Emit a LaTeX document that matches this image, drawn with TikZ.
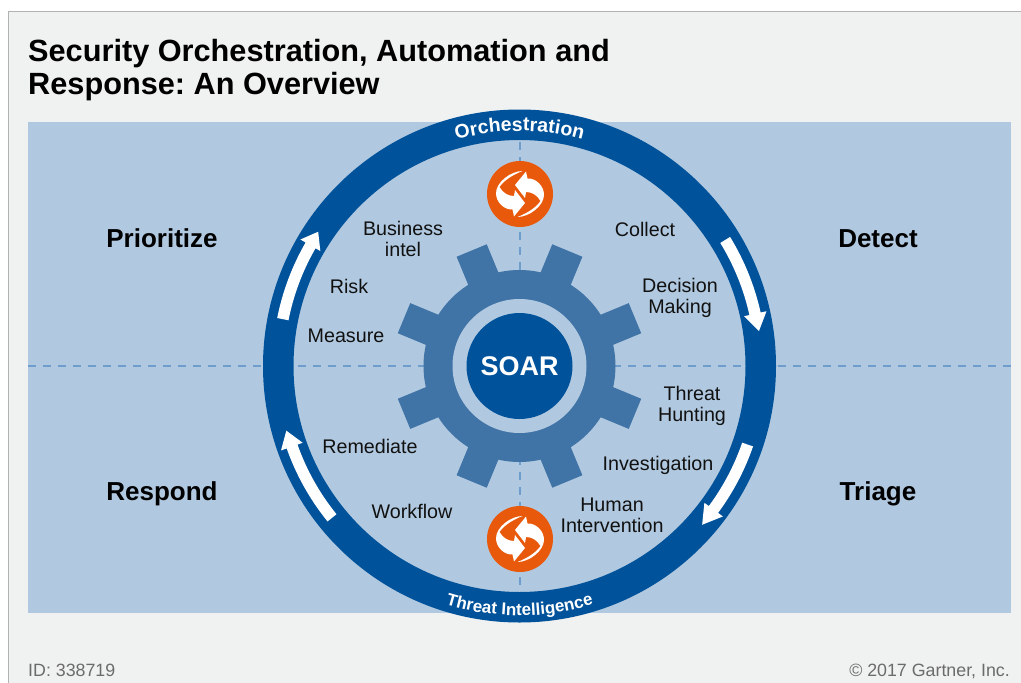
\documentclass[tikz,border=0pt]{standalone}
\usepackage{fontspec}
\setmainfont{Liberation Sans}
\usetikzlibrary{decorations.text}
\definecolor{pagebg}{HTML}{F0F2F2}
\definecolor{bandblue}{HTML}{B1C9E0}
\definecolor{ringblue}{HTML}{00529B}
\definecolor{gearblue}{HTML}{4073A6}
\definecolor{dashblue}{HTML}{6F9DCC}
\definecolor{iconorange}{HTML}{E8590C}
\definecolor{txt}{HTML}{111111}
\frenchspacing
\tikzset{
  lab/.style={font=\fontsize{19.7}{21}\selectfont,text=txt,align=center,inner sep=0pt},
  phase/.style={font=\fontsize{26}{28}\selectfont\bfseries,text=black,inner sep=0pt,anchor=base},
  foot/.style={font=\fontsize{17.8}{20}\selectfont,text=black!58,inner sep=0pt},
  dashline/.style={draw=dashblue,line width=2pt,dash pattern=on 8pt off 7pt},
  swirlarm/.pic={
    \fill[white] (2.5,23) .. controls (-9,23) and (-24,12) .. (-24,0.7)
      .. controls (-24,-8) and (-16,-16) .. (-7.5,-15.5) -- (-6,-22.5) -- (5,-9) -- (-5,4) -- (-6,-2)
      .. controls (-12,-2) and (-17,1) .. (-20.5,7) .. controls (-15,15) and (-5,20) .. (2.5,23) -- cycle;
  },
  swirl/.pic={
    \pic {swirlarm};
    \pic[rotate=180] {swirlarm};
  }
}
\newcommand{\ringarrow}[3]{%
  \fill[white] (#1:235.5) arc[start angle=#1,end angle=#2,radius=235.5] -- (#2:230) -- (#3:242) -- (#2:253) -- (#2:247)
     arc[start angle=#2,end angle=#1,radius=247] -- cycle;}
\begin{document}
\begin{tikzpicture}[x=1pt,y=1pt]
\useasboundingbox (0,-683) rectangle (1021,0);
\fill[white] (0,-683) rectangle (1021,0);
\fill[pagebg] (8,-683) rectangle (1021,-11);
\draw[black!30,line width=1pt] (8,-683) -- (8,-11) -- (1021,-11);
\fill[bandblue] (28,-612.5) rectangle (1011,-122);
\node[anchor=base west,inner sep=0pt,font=\fontsize{30.7}{33}\selectfont\bfseries,text=black,align=left] (title) at (28,-94)
  {Security Orchestration, Automation and\\Response: An Overview};
\node[foot,anchor=base west] (idtext) at (28,-676) {ID: 338719};
\node[foot,anchor=base east] (copy) at (1010,-676) {© 2017 Gartner, Inc.};
\begin{scope}[shift={(519.5,-366)}]
  \draw[dashline] (-491.5,0) -- (491.5,0);
  \draw[dashline] (0,224) -- (0,-224);
  % gear
  \fill[gearblue] (0,0) circle[radius=96];
  \foreach \a in {22.5,67.5,...,337.5}
    \fill[gearblue,rotate=\a] (85,-16.3) rectangle (125,16.3);
  \fill[bandblue] (0,0) circle[radius=67];
  \fill[ringblue] (0,0) circle[radius=53];
  \node[font=\fontsize{27}{30}\selectfont\bfseries,text=white,inner sep=0pt] (soar) at (0,0) {SOAR};
  % ring
  \fill[ringblue,even odd rule] (0,0) circle[radius=256.5] (0,0) circle[radius=226];
  \ringarrow{31.5}{12.5}{8.3}
  \ringarrow{-19}{-36.5}{-41}
  \ringarrow{168.8}{150}{146.3}
  \ringarrow{219}{199.5}{195.5}
  % icons
  \fill[iconorange] (0.5,172) circle[radius=33];
  \fill[iconorange] (0.5,-173) circle[radius=33];
  \pic at (0.5,172) {swirl};
  \pic at (0.5,-173) {swirl};
  % curved labels
  \path[postaction={decorate,decoration={text along path,text align=center,
     text={|\fontsize{19.5}{21}\selectfont\bfseries\color{white}|Orchestration}}}]
     (150:235) arc[start angle=150,end angle=30,radius=235];
  \path[postaction={decorate,decoration={text along path,text align=center,
     text={|\fontsize{17}{20}\selectfont\bfseries\color{white}|Threat Intelligence}}}]
     (210:249.5) arc[start angle=210,end angle=330,radius=249.5];
\end{scope}
\node[phase] (prioritize) at (162,-247) {Prioritize};
\node[phase] (detect) at (878,-247) {Detect};
\node[phase] (respond) at (162,-500) {Respond};
\node[phase] (triage) at (878,-500) {Triage};
\node[lab] (business) at (403,-239) {Business\\intel};
\node[lab] (collect) at (645,-229) {Collect};
\node[lab] (decision) at (680,-298) {Decision\\Making};
\node[lab] (risk) at (349,-286) {Risk};
\node[lab] (measure) at (346,-336) {Measure};
\node[lab] (threat) at (692,-406) {Threat\\Hunting};
\node[lab] (invest) at (658,-465) {Investigation};
\node[lab] (human) at (612,-515) {Human\\Intervention};
\node[lab] (remediate) at (370,-446) {Remediate};
\node[lab] (workflow) at (412,-511) {Workflow};
\end{tikzpicture}
\end{document}
